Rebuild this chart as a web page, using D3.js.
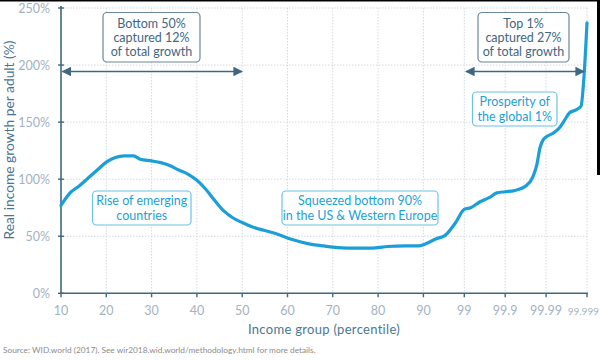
<!DOCTYPE html>
<html><head><meta charset="utf-8">
<script src="https://cdn.jsdelivr.net/npm/d3@7"></script>
<style>
body{margin:0;background:#fff;}
svg{display:block;font-family:Lato,"Noto Sans",sans-serif;}
</style></head><body>
<svg id="c" width="600" height="360"></svg>
<script>
// Data: income percentile and real income growth per adult (%), 1980-2016
const percentiles = [10,12,14,16,18,20,22,24,26,27.5,30,32,34,36,38,40,42,44,46,48,50,52,54,56,58,60,62,64,66,68,70,74,78,80,82,86,89,90,
  93,95.3,97,98.3,99,99.3,99.58,99.76,99.84,99.9,99.94,99.967,99.979,99.983,99.986,99.988,99.99,99.993,99.9953,99.9965,99.9973,99.9982,99.9986,99.9988,99.999];
const growth = [77,88,94,101,108,115,119,120.4,120.5,117.5,116,114.5,112,108,104.5,99,91,81,72,66,62,58.5,56,54,51.5,48.5,46,44,42.5,41.5,40.5,39.5,39.5,40,41,41.5,41.5,42.5,
  45,48,50.5,61,73.5,75,80,84,88,89,90,93.5,102,112,128,134,137,140,145,152,158,161,164,187,237];
const xTicks = [10,20,30,40,50,60,70,80,90,99,99.9,99.99,99.999];
const xTickLabels = ["10","20","30","40","50","60","70","80","90","99","99.9","99.99","99.999"];
const yTicks = [0,50,100,150,200,250];

const svg = d3.select("#c");
// position index of a percentile: linear up to 90, then one step per extra "9"
const rank = p => p <= 90 ? (p - 10) / 10 : 8 + (1 - Math.log10(100 - p));
const xs = d3.scaleLinear().domain([0, 8, 12]).range([61, 423.4, 587]);
const x = p => xs(rank(p));
const y = d3.scaleLinear().domain([0, 250]).range([293.3, 8]);

const gridC = "#d3d9df", axisC = "#3f6782", tickC = "#a3b2c0";

// grid
svg.append("g").selectAll("line").data(yTicks.slice(1)).join("line")
  .attr("x1", 61).attr("x2", 588).attr("y1", d => y(d)).attr("y2", d => y(d))
  .attr("stroke", gridC).attr("stroke-width", 1).attr("stroke-dasharray", "1.5,1.5");
svg.append("g").selectAll("line").data(xTicks.slice(1)).join("line")
  .attr("x1", d => x(d)).attr("x2", d => x(d)).attr("y1", y(250)).attr("y2", y(0))
  .attr("stroke", gridC).attr("stroke-width", 1).attr("stroke-dasharray", "1.5,1.5");

// axes
svg.append("line").attr("x1", 61).attr("x2", 61).attr("y1", 6).attr("y2", y(0))
  .attr("stroke", axisC).attr("stroke-width", 1.6);
svg.append("line").attr("x1", 60).attr("x2", 588).attr("y1", y(0)).attr("y2", y(0))
  .attr("stroke", axisC).attr("stroke-width", 1.6);
svg.append("g").selectAll("line").data(yTicks).join("line")
  .attr("x1", 58).attr("x2", 64).attr("y1", d => y(d)).attr("y2", d => y(d))
  .attr("stroke", axisC).attr("stroke-width", 1.4);
svg.append("g").selectAll("line").data(xTicks).join("line")
  .attr("x1", d => x(d)).attr("x2", d => x(d)).attr("y1", y(0)).attr("y2", y(0) + 4)
  .attr("stroke", axisC).attr("stroke-width", 1.4);

svg.append("g").selectAll("text").data(yTicks).join("text")
  .attr("x", 50).attr("y", d => y(d) + 4.5).attr("text-anchor", "end")
  .attr("font-size", 12.5).attr("fill", tickC).text(d => d + "%");
const last = xTicks.length - 1;
svg.append("g").selectAll("text").data(xTicks).join("text")
  .attr("x", (d, i) => i === last ? 599 : x(d)).attr("y", 315)
  .attr("text-anchor", (d, i) => i === last ? "end" : "middle")
  .attr("font-size", (d, i) => i === last ? 10 : 12.5)
  .attr("fill", tickC).text((d, i) => xTickLabels[i]);

// titles
svg.append("text").attr("transform", "translate(14,140) rotate(-90)")
  .attr("text-anchor", "middle").attr("font-size", 13.8).attr("fill", "#4a7391")
  .text("Real income growth per adult (%)");
svg.append("text").attr("x", 324).attr("y", 334).attr("text-anchor", "middle")
  .attr("font-size", 13).attr("fill", "#4b7893").attr("letter-spacing", 0.3)
  .text("Income group (percentile)");
svg.append("text").attr("x", 3).attr("y", 353).attr("font-size", 8.3).attr("fill", "#8c8c8c")
  .text("Source: WID.world (2017). See wir2018.wid.world/methodology.html for more details.");

// line
const pts = percentiles.map((p, i) => [x(p), y(growth[i])]);
svg.append("path").attr("d", d3.line().curve(d3.curveMonotoneX)(pts))
  .attr("fill", "none").attr("stroke", "#1c9fd8").attr("stroke-width", 3.2)
  .attr("stroke-linejoin", "round").attr("stroke-linecap", "round");

// arrows
const defs = svg.append("defs");
defs.append("marker").attr("id", "ah").attr("viewBox", "0 0 10 10").attr("refX", 9).attr("refY", 5)
  .attr("markerWidth", 6).attr("markerHeight", 6).attr("orient", "auto-start-reverse")
  .append("path").attr("d", "M0,0L10,5L0,10z").attr("fill", "#3f6782");
function arrow(p1, p2, yy) {
  svg.append("line").attr("x1", p1).attr("x2", p2).attr("y1", yy).attr("y2", yy)
    .attr("stroke", "#3f6782").attr("stroke-width", 1.6)
    .attr("marker-start", "url(#ah)").attr("marker-end", "url(#ah)");
}
arrow(62.5, 242, 71.5);
arrow(466, 584, 71.5);

// annotation boxes
function box(x0, y0, w, h, lines, col, tcol, fill) {
  svg.append("rect").attr("x", x0).attr("y", y0).attr("width", w).attr("height", h)
    .attr("rx", 4).attr("fill", fill).attr("stroke", col).attr("stroke-width", 1.2);
  const t = svg.append("text").attr("text-anchor", "middle").attr("font-size", 12.5).attr("fill", tcol);
  const n = lines.length, lh = 14.2;
  const startY = y0 + h / 2 - (n - 1) * lh / 2 + 4.5;
  lines.forEach((l, i) => t.append("tspan").attr("x", x0 + w / 2).attr("y", startY + i * lh).text(l));
}
box(103, 12.5, 97, 49.5, ["Bottom 50%", "captured 12%", "of total growth"], "#6c8699", "#3f6782", "#fff");
box(478, 12.5, 91, 49.5, ["Top 1%", "captured 27%", "of total growth"], "#6c8699", "#3f6782", "#fff");
box(472.5, 92, 84.5, 34, ["Prosperity of", "the global 1%"], "#6cc2e6", "#1c9fd8", "#fff");
box(92.5, 191, 98.5, 34, ["Rise of emerging", "countries"], "#6cc2e6", "#1c9fd8", "#fff");
box(282, 191, 156, 34, ["Squeezed bottom 90%", "in the US & Western Europe"], "#6cc2e6", "#1c9fd8", "#fff");

// image frame edges present in the reference
svg.append("rect").attr("x", 0).attr("y", 0).attr("width", 600).attr("height", 1.5).attr("fill", "#000");
svg.append("rect").attr("x", 597).attr("y", 0).attr("width", 3).attr("height", 175).attr("fill", "#000");
</script>
</body></html>
